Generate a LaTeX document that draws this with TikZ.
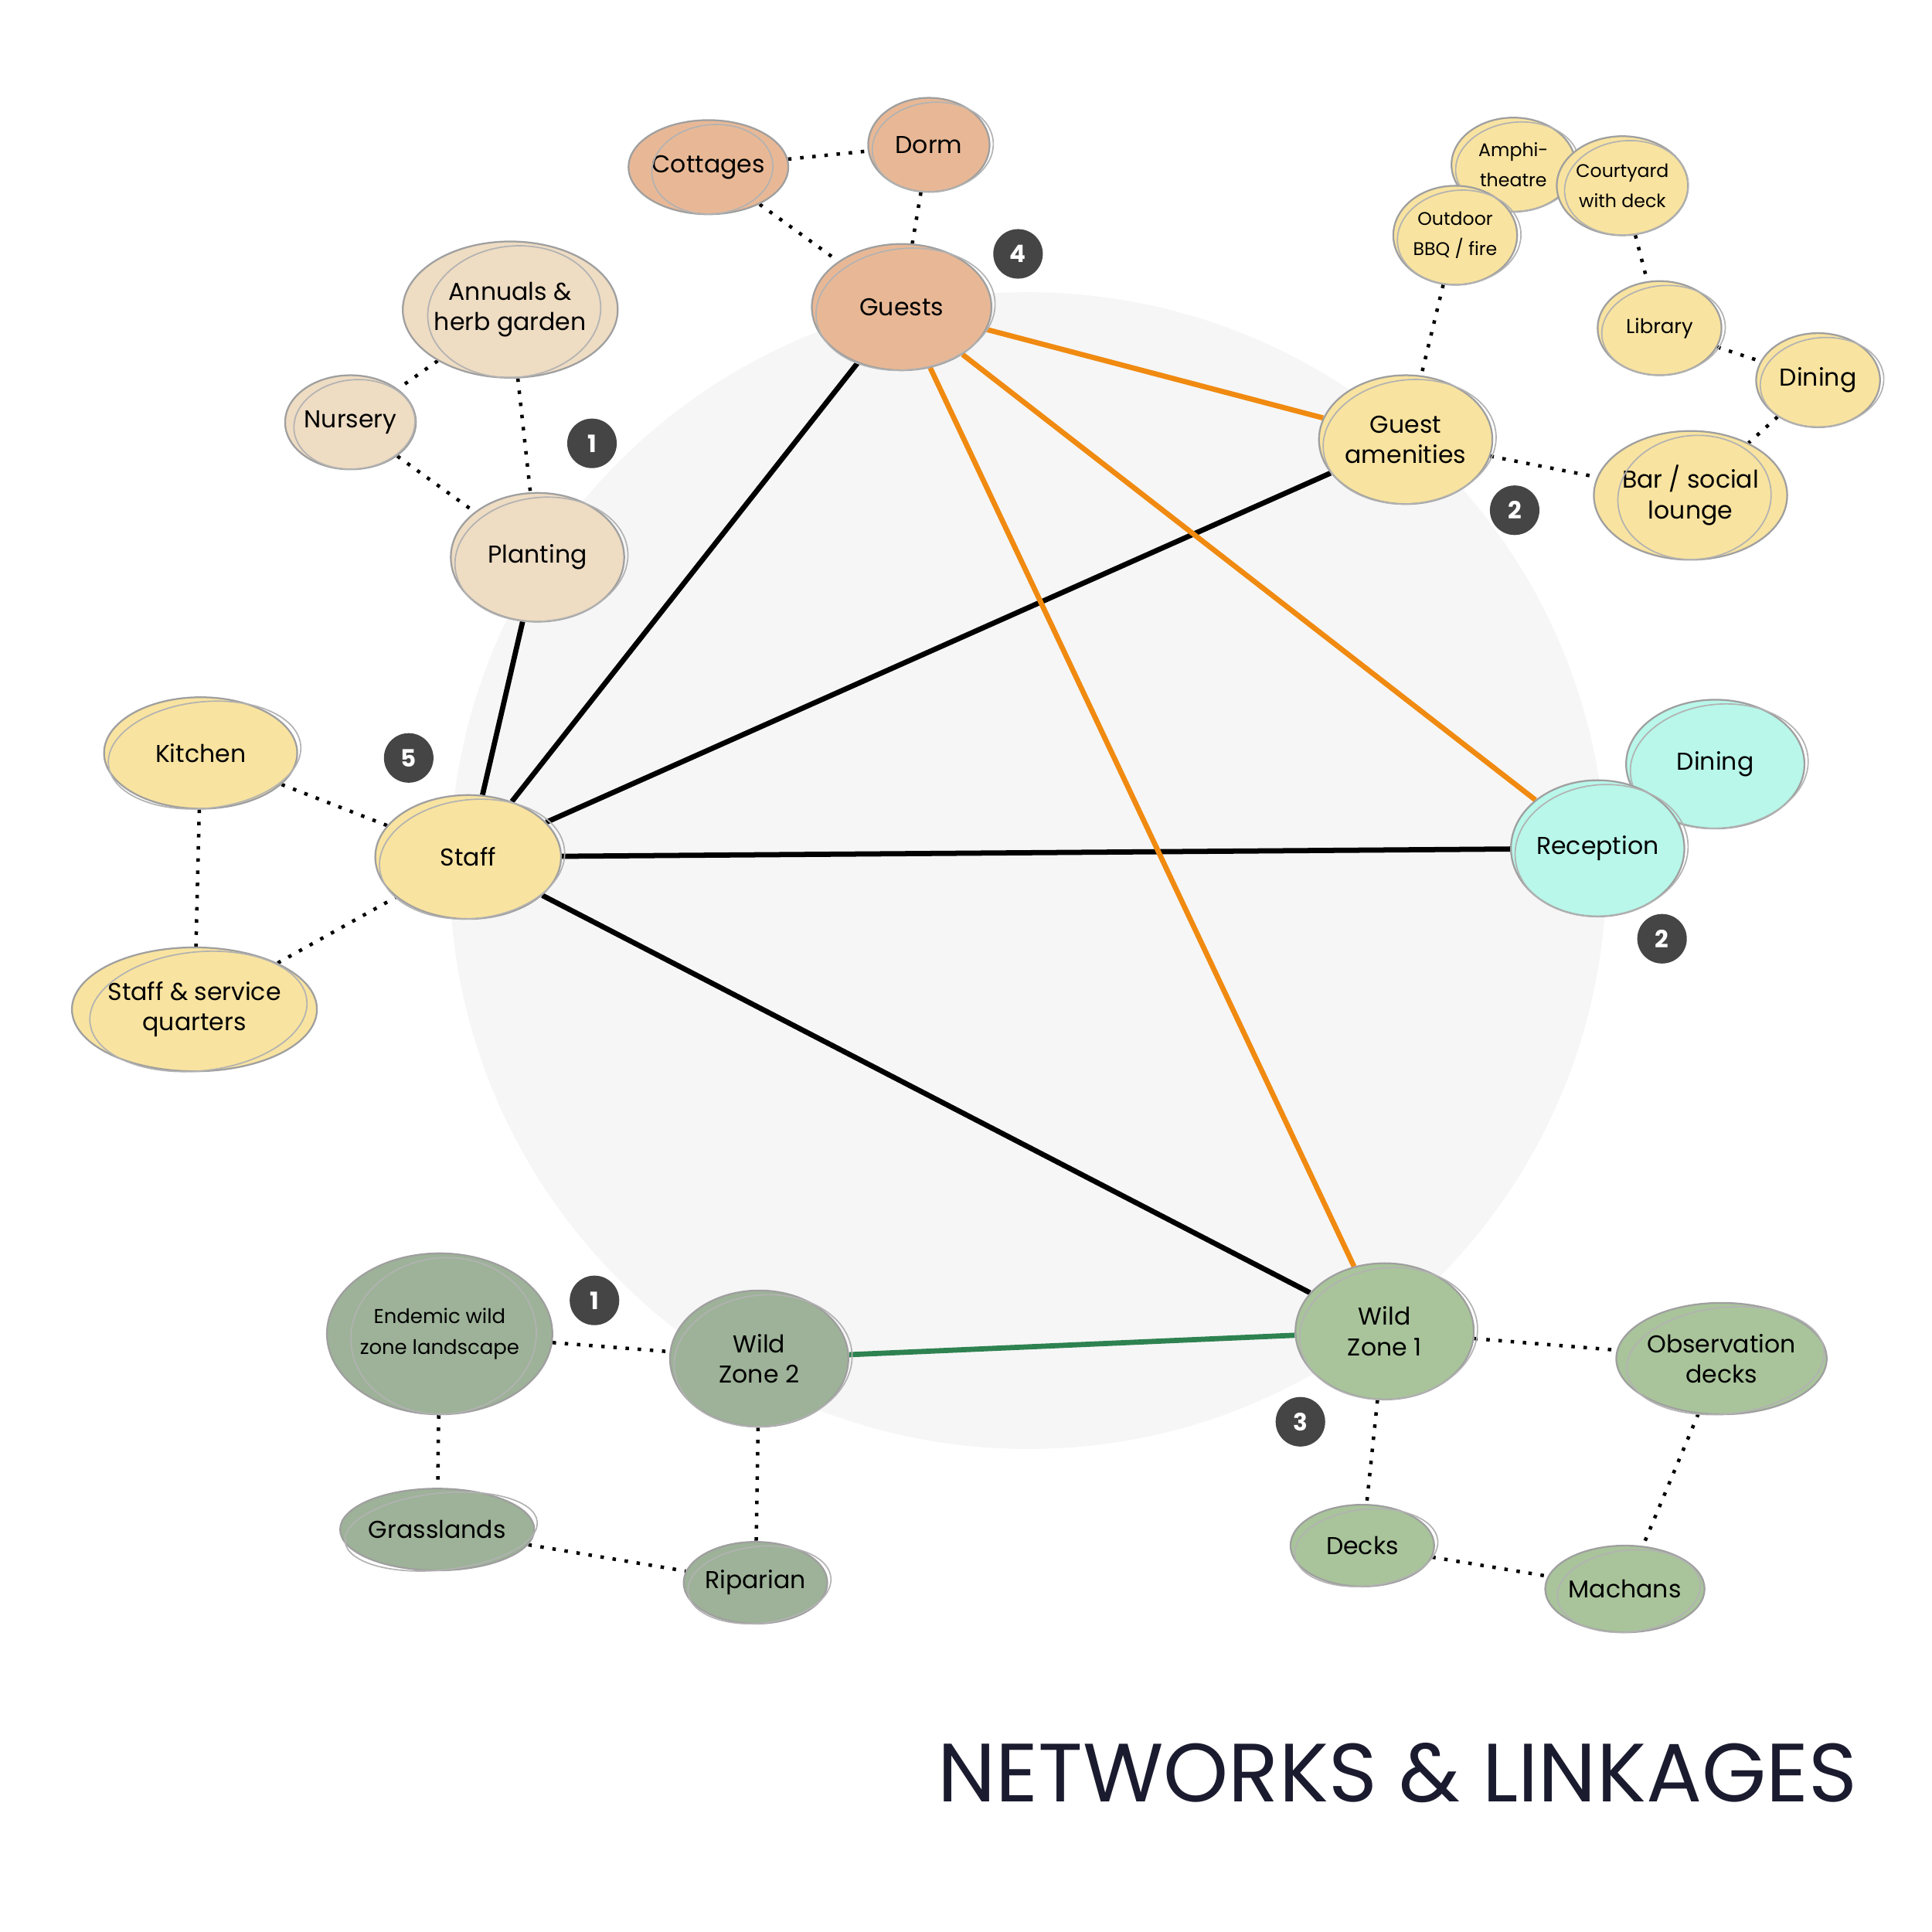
\documentclass[tikz,border=0pt]{standalone}
\usepackage{fontspec}
\setmainfont{Poppins}
\usetikzlibrary{shapes.geometric}
\pgfdeclarelayer{back}
\pgfdeclarelayer{edges}
\pgfsetlayers{back,edges,main}
\definecolor{guestc}{HTML}{E8B896}
\definecolor{plantc}{HTML}{EEDCC3}
\definecolor{staffc}{HTML}{F8E3A0}
\definecolor{recc}{HTML}{B8F7EA}
\definecolor{wildA}{HTML}{A9C49B}
\definecolor{wildB}{HTML}{9DB298}
\definecolor{badgec}{HTML}{454545}
\definecolor{linkorange}{HTML}{F08A10}
\definecolor{linkgreen}{HTML}{2E8250}
\definecolor{titlec}{HTML}{1B1B2F}
\tikzset{
    blob/.style={ellipse,draw=gray!75,line width=0.4pt,inner sep=0pt,align=center,font=\fontsize{5.6}{7}\selectfont},
    sketch/.style={draw=gray!60,line width=0.3pt},
    badge/.style={circle,fill=badgec,text=white,inner sep=0pt,minimum size=0.4cm,font=\bfseries\fontsize{5.5}{6}\selectfont},
    solidlink/.style={line width=1.2pt},
    dotlink/.style={line width=0.8pt,dotted}
}
\newcommand{\blob}[7]{
    \node (#1) [blob,fill=#6,minimum width=#4 cm,minimum height=#5 cm] at (#2,#3) {#7};
    \draw[sketch,rotate around={6:(#2,#3)}] (#2+0.03,#3-0.02) ellipse [x radius=#4/2, y radius=#5/2-0.02];
}
\begin{document}
\begin{tikzpicture}
    \useasboundingbox (0,0) rectangle (15.6,-15.6);
    \begin{pgfonlayer}{back}
        \fill[gray!7] (8.3,-7.03) circle [radius=4.67];
    \end{pgfonlayer}

    % guests
    \blob{guests}{7.28}{-2.48}{1.45}{1.02}{guestc}{Guests}
    \blob{cottages}{5.72}{-1.35}{0.98}{0.76}{guestc}{Cottages}
    \blob{dorm}{7.50}{-1.17}{0.98}{0.76}{guestc}{Dorm}

    % planting
    \blob{annuals}{4.12}{-2.50}{1.40}{1.10}{plantc}{Annuals \&\\herb garden}
    \blob{nursery}{2.83}{-3.41}{0.98}{0.76}{plantc}{Nursery}
    \blob{planting}{4.34}{-4.50}{1.40}{1.04}{plantc}{Planting}

    % staff
    \blob{staff}{3.78}{-6.92}{1.50}{1.00}{staffc}{Staff}
    \blob{kitchen}{1.62}{-6.08}{1.56}{0.90}{staffc}{Kitchen}
    \blob{quarters}{1.57}{-8.15}{1.76}{1.00}{staffc}{Staff \& service\\quarters}

    % amenities
    \blob{amenities}{11.35}{-3.55}{1.40}{1.04}{staffc}{Guest\\amenities}
    \blob{amphi}{12.22}{-1.33}{1.00}{0.76}{staffc}{\fontsize{4.2}{5}\selectfont Amphi-\\\fontsize{4.2}{5}\selectfont theatre}
    \blob{courtyard}{13.10}{-1.50}{1.00}{0.80}{staffc}{\fontsize{4.2}{5}\selectfont Courtyard\\\fontsize{4.2}{5}\selectfont with deck}
    \blob{bbq}{11.75}{-1.90}{1.00}{0.80}{staffc}{\fontsize{4.2}{5}\selectfont Outdoor\\\fontsize{4.2}{5}\selectfont BBQ / fire}
    \blob{library}{13.40}{-2.65}{1.00}{0.76}{staffc}{\fontsize{4.6}{5}\selectfont Library}
    \blob{dining}{14.68}{-3.07}{1.00}{0.76}{staffc}{Dining}
    \blob{bar}{13.65}{-4.00}{1.24}{1.04}{staffc}{Bar / social\\lounge}

    % reception
    \blob{dining2}{13.85}{-6.17}{1.44}{1.04}{recc}{Dining}
    \blob{reception}{12.90}{-6.85}{1.40}{1.10}{recc}{Reception}

    % wild zones
    \blob{wild1}{11.18}{-10.75}{1.44}{1.10}{wildA}{Wild\\Zone 1}
    \blob{obs}{13.90}{-10.97}{1.60}{0.90}{wildA}{Observation\\decks}
    \blob{decks}{11.00}{-12.48}{1.16}{0.66}{wildA}{Decks}
    \blob{machans}{13.12}{-12.83}{1.16}{0.70}{wildA}{Machans}
    \blob{wild2}{6.13}{-10.97}{1.44}{1.10}{wildB}{Wild\\Zone 2}
    \blob{endemic}{3.55}{-10.77}{1.50}{1.30}{wildB}{\fontsize{4.6}{5.5}\selectfont Endemic wild\\\fontsize{4.6}{5.5}\selectfont zone landscape}
    \blob{grass}{3.53}{-12.35}{1.56}{0.66}{wildB}{Grasslands}
    \blob{riparian}{6.10}{-12.78}{1.16}{0.66}{wildB}{Riparian}

    % badges
    \node (b1) [badge] at (4.78,-3.58) {1};
    \node (b2) [badge] at (12.23,-4.12) {2};
    \node (b4) [badge] at (8.22,-2.05) {4};
    \node (b5) [badge] at (3.30,-6.12) {5};
    \node (b2r) [badge] at (13.42,-7.58) {2};
    \node (b1w) [badge] at (4.80,-10.50) {1};
    \node (b3) [badge] at (10.50,-11.48) {3};

    \begin{pgfonlayer}{edges}
        \draw[solidlink] (staff) -- (planting);
        \draw[solidlink] (staff) -- (guests);
        \draw[solidlink] (staff) -- (amenities);
        \draw[solidlink] (staff) -- (reception);
        \draw[solidlink] (staff) -- (wild1);
        \draw[solidlink,linkorange] (guests) -- (amenities);
        \draw[solidlink,linkorange] (guests) -- (reception);
        \draw[solidlink,linkorange] (guests) -- (wild1);
        \draw[solidlink,linkgreen] (wild2) -- (wild1);
        \foreach \a/\b in {cottages/dorm,cottages/guests,dorm/guests,
            annuals/nursery,annuals/planting,nursery/planting,
            kitchen/staff,kitchen/quarters,quarters/staff,
            bbq/amenities,courtyard/library,library/dining,dining/bar,amenities/bar,
            wild1/obs,wild1/decks,obs/machans,decks/machans,
            endemic/wild2,endemic/grass,wild2/riparian,grass/riparian}
            \draw[dotlink] (\a) -- (\b);
    \end{pgfonlayer}

    \node (title) [anchor=south east,text=titlec,font=\fontsize{19}{22}\selectfont] at (15.12,-14.68) {NETWORKS \& LINKAGES};
\end{tikzpicture}
\end{document}
